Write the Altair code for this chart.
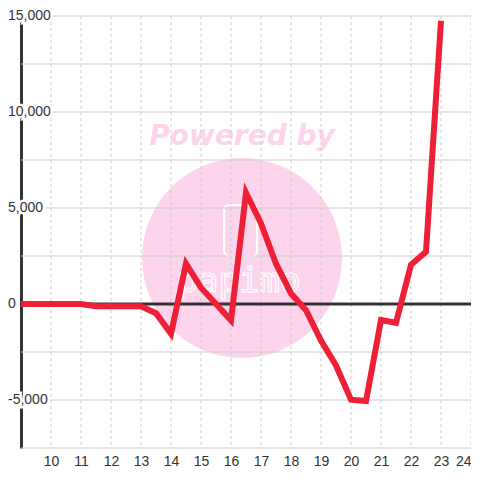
import altair as alt
import pandas as pd

# series
x_vals = [9, 9.5, 10, 10.5, 11, 11.5, 12, 12.5, 13, 13.5, 14, 14.5, 15, 15.5,
          16, 16.5, 17, 17.5, 18, 18.5, 19, 19.5, 20, 20.5, 21, 21.5, 22, 22.5, 23]
y_vals = [0, 0, 0, 0, 0, -120, -120, -120, -120, -480, -1550, 2100, 850, 0,
          -850, 5800, 4200, 2100, 550, -320, -1900, -3200, -4980, -5050, -830, -980,
          2050, 2720, 14750]

# axes / grid
x_ticks = [10, 11, 12, 13, 14, 15, 16, 17, 18, 19, 20, 21, 22, 23, 24]
y_labels = [-5000, 0, 5000, 10000, 15000]
y_grid = [-7500, -5000, -2500, 0, 2500, 5000, 7500, 10000, 12500, 15000]
zero_line = [0]

W, H = 450, 432
xscale = alt.Scale(domain=[9, 24], nice=False, zero=False)
yscale = alt.Scale(domain=[-7500, 15000], nice=False, zero=False)

x_axis = alt.Axis(values=x_ticks, grid=False, domain=False, ticks=False,
                  labelPadding=6, labelFontSize=14, labelColor="#333333",
                  labelFont="Liberation Sans", labelFlush=True,
                  labelOverlap=False, title=None)
y_axis = alt.Axis(values=y_labels, grid=False, labels=False, ticks=False,
                  domain=True, domainColor="#333333", domainWidth=3, title=None)

df = pd.DataFrame({"x": x_vals, "y": y_vals})
one = pd.DataFrame({"k": [0]})
PINK = "#FCD5EC"

circle = alt.Chart(one).mark_circle(size=40000, color=PINK, opacity=1).encode(
    x=alt.value(221), y=alt.value(242))
powered = alt.Chart(one).mark_text(
    text="Powered by", font="DejaVu Sans", fontSize=28, fontWeight="bold",
    fontStyle="italic", color=PINK, align="center", baseline="alphabetic"
).encode(x=alt.value(221), y=alt.value(129))
logo_box = alt.Chart(one).mark_rect(
    fill="white", fillOpacity=0, stroke="white", strokeWidth=2, cornerRadius=5
).encode(x=alt.value(203), x2=alt.value(236), y=alt.value(189), y2=alt.value(240))
logo_txt = alt.Chart(one).mark_text(
    text="papimo", font="DejaVu Sans Mono", fontSize=34, fill=PINK,
    stroke="white", strokeWidth=1.2, align="center", baseline="alphabetic"
).encode(x=alt.value(218), y=alt.value(276))

hgrid = alt.Chart(pd.DataFrame({"g": y_grid})).mark_rule(
    color="#cccccc", strokeWidth=1).encode(y=alt.Y("g:Q", scale=yscale, axis=y_axis))
vgrid = alt.Chart(pd.DataFrame({"t": x_ticks})).mark_rule(
    color="#cccccc", strokeWidth=1, strokeDash=[3, 3]).encode(
    x=alt.X("t:Q", scale=xscale, axis=x_axis))
zero = alt.Chart(pd.DataFrame({"z": zero_line})).mark_rule(
    color="#333333", strokeWidth=3).encode(y=alt.Y("z:Q", scale=yscale, axis=y_axis))

lab_df = pd.DataFrame({"v": y_labels})
lab_expr = "datum.v < 0 ? '-' + format(-datum.v, ',') : format(datum.v, ',')"
halo = alt.Chart(lab_df).transform_calculate(lab=lab_expr).mark_text(
    font="Liberation Sans", fontSize=14, align="left", baseline="middle",
    fill="white", stroke="white", strokeWidth=5
).encode(x=alt.value(-13), y=alt.Y("v:Q", scale=yscale, axis=y_axis), text="lab:N")
labels = alt.Chart(lab_df).transform_calculate(lab=lab_expr).mark_text(
    font="Liberation Sans", fontSize=14, align="left", baseline="middle",
    color="#333333"
).encode(x=alt.value(-13), y=alt.Y("v:Q", scale=yscale, axis=y_axis), text="lab:N")

line = alt.Chart(df).mark_line(color="#EE2037", strokeWidth=6).encode(
    x=alt.X("x:Q", scale=xscale, axis=x_axis),
    y=alt.Y("y:Q", scale=yscale, axis=y_axis),
)

chart = alt.layer(circle, powered, logo_box, logo_txt, hgrid, vgrid, zero,
                  halo, labels, line).properties(
    width=W, height=H,
    padding={"left": 13, "top": 8, "right": 0, "bottom": 22},
    autosize="none", background="white",
).configure_view(stroke=None)

chart.save("out.html", embed_options={"renderer": "svg", "actions": False})
